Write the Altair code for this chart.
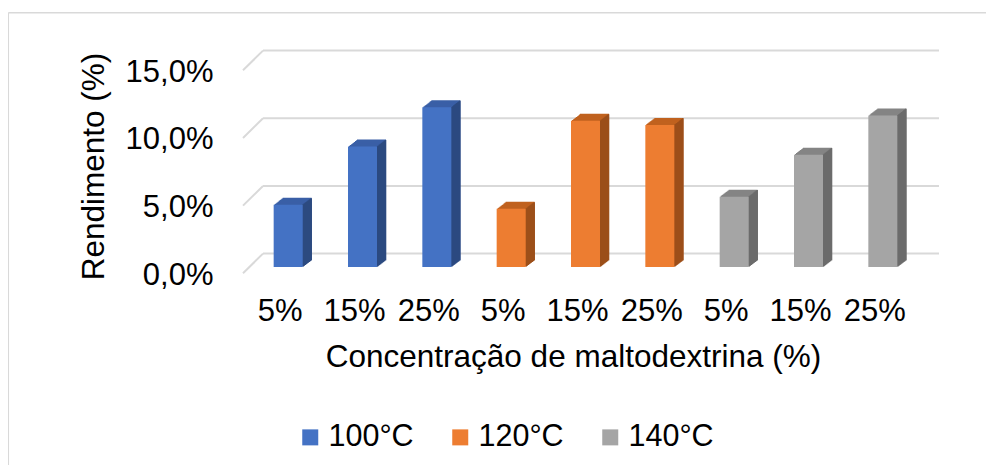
import altair as alt
import pandas as pd

# ---- data ----
temperaturas = ["100°C", "120°C", "140°C"]
concentracoes = ["5%", "15%", "25%"]
rend_100 = [4.6, 8.9, 11.8]
rend_120 = [4.3, 10.8, 10.5]
rend_140 = [5.2, 8.3, 11.2]
y_ticks = [0, 5, 10, 15]

front_colors = ["#4472C4", "#ED7D31", "#A5A5A5"]
top_colors = ["#3A5FA6", "#C0621F", "#848484"]
side_colors = ["#2C4A80", "#9C4F1A", "#6B6B6B"]

rows = []
for t, vals, tc, sc in zip(temperaturas, [rend_100, rend_120, rend_140], top_colors, side_colors):
    for c, v in zip(concentracoes, vals):
        rows.append({"key": f"{t}|{c}", "temp": t, "conc": c, "valor": v, "top": tc, "side": sc})
df = pd.DataFrame(rows)
order = list(df["key"])
grid_df = pd.DataFrame({"valor": y_ticks})

FONT = "Liberation Sans"
FS_LABEL = 31
FS_TITLE = 31.5
FS_LEGEND = 30.5
DX, DY = 9, 7
BAR_W = 29
W, H = 669, 203
PL, PT, PR, PB = 243, 56, 66, 198

x_enc = alt.X(
    "key:N", sort=order,
    scale=alt.Scale(paddingInner=0, paddingOuter=0),
    title="Concentração de maltodextrina (%)",
    axis=alt.Axis(
        labelExpr="split(datum.label, '|')[1]", labelAngle=0,
        labelOffset=-8, labelPadding=44, labelBaseline="middle",
        domain=False, ticks=False, tickSize=0, grid=False,
        titleX=322, titleY=90, titleBaseline="middle", titleAlign="center",
    ),
)
y_enc = alt.Y(
    "valor:Q",
    scale=alt.Scale(domain=[0, 15], nice=False, zero=True),
    title="Rendimento (%)",
    axis=alt.Axis(
        values=y_ticks,
        labelExpr="replace(format(datum.value, '.1f'), '.', ',') + '%'",
        labelOffset=8, labelPadding=38, domain=False, ticks=False, tickSize=0, grid=False,
        titleX=-157, titleY=102, titleBaseline="middle", titleAlign="center", titleAngle=270,
    ),
)

frame_col = "#D9D9D9"
frame_top = alt.Chart(grid_df.head(1)).mark_rule(color=frame_col, strokeWidth=1.5).encode(
    x=alt.value(-242.7), x2=alt.value(W + PR), y=alt.value(-51.3), y2=alt.value(-51.3))
frame_left = alt.Chart(grid_df.head(1)).mark_rule(color=frame_col, strokeWidth=1.5).encode(
    x=alt.value(-242.7), x2=alt.value(-242.7), y=alt.value(-51.3), y2=alt.value(H + PB))

grid_back = alt.Chart(grid_df).mark_rule(color="#D9D9D9", strokeWidth=2, yOffset=-13.4, y2Offset=-13.4).encode(
    y=y_enc, x=alt.value(12), x2=alt.value(688))
grid_diag = alt.Chart(grid_df).mark_rule(color="#D9D9D9", strokeWidth=2, yOffset=6.3, y2Offset=-13.4).encode(
    y=y_enc, y2="valor:Q", x=alt.value(-8), x2=alt.value(12))

top_layers = []
for k in range(DX, 0, -1):
    off = -k * DY / DX
    top_layers.append(
        alt.Chart(df).mark_bar(width=BAR_W, xOffset=k, x2Offset=k, yOffset=off, y2Offset=off).encode(
            x=x_enc, y=y_enc, color=alt.Color("top:N", scale=None))
    )
side_layers = []
for k in range(1, DX + 1):
    off = -(k - 0.5) * DY / DX
    xo = BAR_W / 2 + k - 0.5
    side_layers.append(
        alt.Chart(df).mark_bar(width=1.6, xOffset=xo, x2Offset=xo, yOffset=off, y2Offset=off).encode(
            x=x_enc, y=y_enc, color=alt.Color("side:N", scale=None))
    )

front = alt.Chart(df).mark_bar(width=BAR_W).encode(
    x=x_enc, y=y_enc,
    color=alt.Color(
        "temp:N",
        scale=alt.Scale(domain=temperaturas, range=front_colors),
        legend=alt.Legend(
            orient="none", legendX=44, legendY=358, direction="horizontal", title=None,
            symbolType="square", symbolSize=256, symbolStrokeWidth=0,
            labelFontSize=FS_LEGEND, labelFont=FONT, labelColor="#000000", labelOffset=3,
            columnPadding=31,
        ),
    ),
)

chart = alt.layer(
    frame_top, frame_left, grid_back, grid_diag, *top_layers, *side_layers, front
).properties(
    width=W, height=H,
    autosize=alt.AutoSizeParams(type="none"),
    padding={"left": PL, "top": PT, "right": PR, "bottom": PB},
).configure_view(stroke=None).configure_axis(
    labelFont=FONT, labelFontSize=FS_LABEL, labelColor="#000000",
    titleFont=FONT, titleFontSize=FS_TITLE, titleColor="#000000", titleFontWeight="normal",
)

chart.save("out.html", embed_options={"renderer": "svg", "actions": False})
